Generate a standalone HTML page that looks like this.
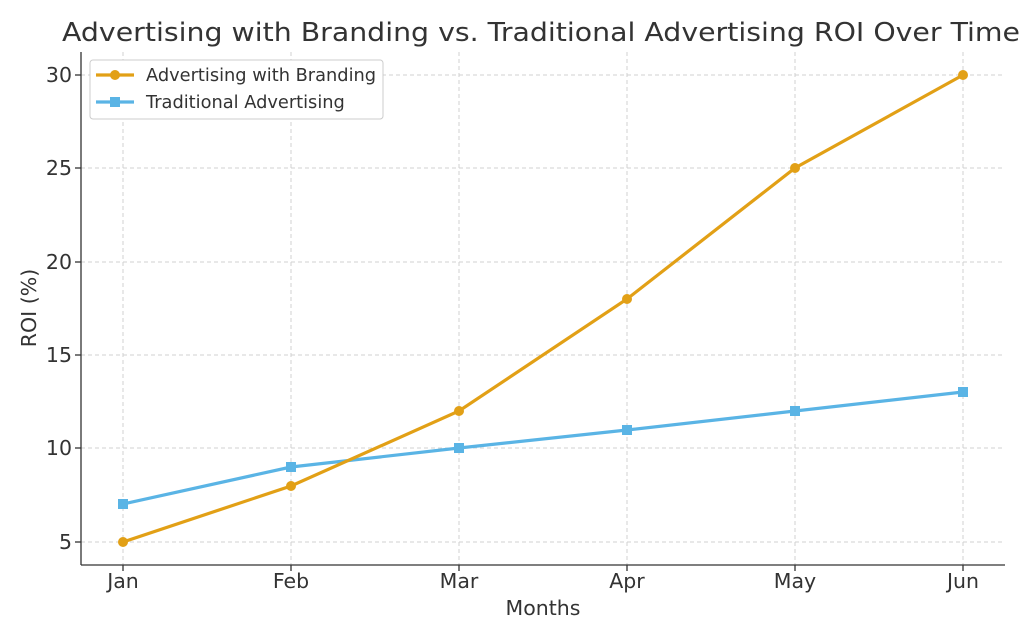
<!DOCTYPE html>
<html><head><meta charset="utf-8"><style>
body{margin:0;background:#fff;}
svg{display:block;font-family:"DejaVu Sans","Liberation Sans",sans-serif;}
</style></head><body>
<svg width="1024" height="640" xmlns="http://www.w3.org/2000/svg">
<rect width="1024" height="640" fill="#fff"/>
<text x="62" y="41" font-size="26" fill="#333" textLength="958" lengthAdjust="spacingAndGlyphs">Advertising with Branding vs. Traditional Advertising ROI Over Time</text>
<g stroke="#d0d0d0" stroke-dasharray="4,3" stroke-width="1">
<line x1="123" y1="52" x2="123" y2="565"/><line x1="291" y1="52" x2="291" y2="565"/>
<line x1="459" y1="52" x2="459" y2="565"/><line x1="627" y1="52" x2="627" y2="565"/>
<line x1="795" y1="52" x2="795" y2="565"/><line x1="963" y1="52" x2="963" y2="565"/>
<line x1="81" y1="75" x2="1005" y2="75"/><line x1="81" y1="168" x2="1005" y2="168"/>
<line x1="81" y1="262" x2="1005" y2="262"/><line x1="81" y1="355" x2="1005" y2="355"/>
<line x1="81" y1="448" x2="1005" y2="448"/><line x1="81" y1="542" x2="1005" y2="542"/>
</g>
<g stroke="#333" stroke-width="1.3">
<line x1="81" y1="52" x2="81" y2="565"/><line x1="81" y1="565" x2="1005" y2="565"/>
<line x1="75" y1="75" x2="81" y2="75"/><line x1="75" y1="168" x2="81" y2="168"/><line x1="75" y1="262" x2="81" y2="262"/>
<line x1="75" y1="355" x2="81" y2="355"/><line x1="75" y1="448" x2="81" y2="448"/><line x1="75" y1="542" x2="81" y2="542"/>
<line x1="123" y1="565" x2="123" y2="571"/><line x1="291" y1="565" x2="291" y2="571"/><line x1="459" y1="565" x2="459" y2="571"/>
<line x1="627" y1="565" x2="627" y2="571"/><line x1="795" y1="565" x2="795" y2="571"/><line x1="963" y1="565" x2="963" y2="571"/>
</g>
<g font-size="20.5" fill="#333" text-anchor="end">
<text x="72" y="82">30</text><text x="72" y="175">25</text><text x="72" y="269">20</text>
<text x="72" y="362">15</text><text x="72" y="455">10</text><text x="72" y="549">5</text>
</g>
<g font-size="20.5" fill="#333" text-anchor="middle">
<text x="123" y="588">Jan</text><text x="291" y="588">Feb</text><text x="459" y="588">Mar</text>
<text x="627" y="588">Apr</text><text x="795" y="588">May</text><text x="963" y="588">Jun</text>
<text x="543" y="615">Months</text>
<text transform="translate(36,308) rotate(-90)">ROI (%)</text>
</g>
<polyline fill="none" stroke="#5ab4e5" stroke-width="3.2" points="123,504 291,467 459,448 627,430 795,411 963,392"/>
<g fill="#5ab4e5">
<rect x="118" y="499" width="10" height="10"/><rect x="286" y="462" width="10" height="10"/><rect x="454" y="443" width="10" height="10"/>
<rect x="622" y="425" width="10" height="10"/><rect x="790" y="406" width="10" height="10"/><rect x="958" y="387" width="10" height="10"/>
</g>
<polyline fill="none" stroke="#e2a016" stroke-width="3.2" points="123,542 291,486 459,411 627,299 795,168 963,75"/>
<g fill="#e2a016">
<circle cx="123" cy="542" r="5"/><circle cx="291" cy="486" r="5"/><circle cx="459" cy="411" r="5"/>
<circle cx="627" cy="299" r="5"/><circle cx="795" cy="168" r="5"/><circle cx="963" cy="75" r="5"/>
</g>
<rect x="90" y="60" width="293" height="59" rx="3" fill="#fff" stroke="#ccc"/>
<line x1="96" y1="75" x2="134" y2="75" stroke="#e2a016" stroke-width="3.2"/><circle cx="115" cy="75" r="5" fill="#e2a016"/>
<line x1="96" y1="102" x2="134" y2="102" stroke="#5ab4e5" stroke-width="3.2"/><rect x="110" y="97" width="10" height="10" fill="#5ab4e5"/>
<text x="146" y="81" font-size="17.8" fill="#333">Advertising with Branding</text>
<text x="146" y="108" font-size="17.8" fill="#333">Traditional Advertising</text>
</svg>
</body></html>
